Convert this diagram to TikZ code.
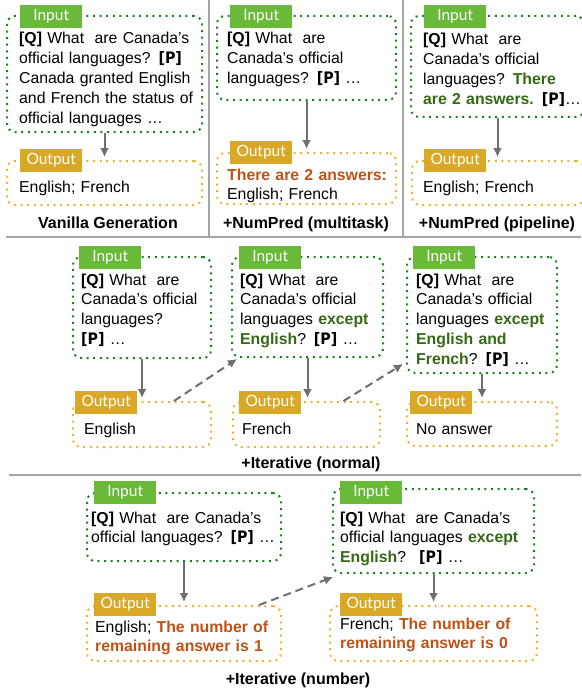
\documentclass[tikz,border=0pt]{standalone}
\usepackage{fontspec}
\setmainfont{Liberation Sans}
\newfontfamily\tagfont{Lato}
\newfontfamily\pfont{DejaVu Sans Condensed}
\usepackage{xcolor}
\usetikzlibrary{calc,arrows.meta}

\definecolor{inborder}{RGB}{28,128,28}
\definecolor{infill}{RGB}{106,186,57}
\definecolor{outborder}{RGB}{232,180,50}
\definecolor{outfill}{RGB}{217,168,38}
\definecolor{hlgreen}{RGB}{52,105,18}
\definecolor{hlorange}{RGB}{190,82,20}
\definecolor{sepgray}{RGB}{165,165,165}
\definecolor{arrgray}{RGB}{110,110,110}

\newcommand{\qtag}{\textbf{[Q]}}
\newcommand{\ptag}{{\pfont\bfseries[P]}}
\newcommand{\hlg}[1]{\textcolor{hlgreen}{\textbf{#1}}}
\newcommand{\hlo}[1]{\textcolor{hlorange}{\textbf{#1}}}

\tikzset{
  box/.style={draw, line width=2pt, dash pattern=on 2pt off 4.6pt, rounded corners=8pt, anchor=north west, inner sep=0pt},
  inbox/.style={box, draw=inborder},
  outbox/.style={box, draw=outborder},
  tag/.style={font=\tagfont\fontsize{15.5}{16}\selectfont, text=white, minimum width=62pt, minimum height=23pt, inner sep=0pt, anchor=north west},
  intag/.style={tag, fill=infill},
  outtag/.style={tag, fill=outfill},
  txt/.style={anchor=base west, inner sep=0pt, text width=205pt, align=left, font=\fontsize{15.8}{19.8}\selectfont},
  capt/.style={anchor=base, inner sep=0pt, font=\bfseries\fontsize{16}{19}\selectfont},
  flow/.style={-{Latex[length=9pt,width=9pt]}, line width=2pt, draw=arrgray, shorten >=3pt},
  iterflow/.style={flow, dash pattern=on 8pt off 5pt, shorten >=0pt},
  divider/.style={line width=2pt, draw=sepgray},
}

\begin{document}
\begin{tikzpicture}[x=1pt, y=-1pt]
	\useasboundingbox (0,0) rectangle (581,690);

	\draw[divider] (209,0) -- (209,237);
	\draw[divider] (403,0) -- (403,237);
	\draw[divider] (6,237) -- (581,237);
	\draw[divider] (9,475) -- (581,475);

	\node[inbox, minimum width=195pt, minimum height=116pt] (in1) at (6,15) {};
	\node[intag] (in1tag) at (20,5) {Input};
	\node[txt] (in1txt) at (19,44) {\qtag{} What~ are Canada’s\\official languages? \ptag\\Canada granted English\\and French the status of\\official languages …};
	\node[outbox, minimum width=195pt, minimum height=44pt] (out1) at (6,160) {};
	\node[outtag] (out1tag) at (20,149) {Output};
	\node[txt] (out1txt) at (19,192) {English; French};
	\draw[flow] (in1.south) -- (in1.south |- out1.north);
	\node[capt] (cap1) at (108,228) {Vanilla Generation};

	\node[inbox, minimum width=179pt, minimum height=84pt] (in2) at (216,15) {};
	\node[intag] (in2tag) at (230,5) {Input};
	\node[txt] (in2txt) at (227,44) {\qtag{} What~ are\\Canada’s official\\languages? \ptag{} …};
	\node[outbox, minimum width=179pt, minimum height=51pt] (out2) at (216,152) {};
	\node[outtag] (out2tag) at (230,141) {Output};
	\node[txt] (out2txt) at (227,180) {\hlo{There are 2 answers:}\\English; French};
	\draw[flow] (in2.south) -- (in2.south |- out2.north);
	\node[capt] (cap2) at (306,228) {+NumPred (multitask)};

	\node[inbox, minimum width=173pt, minimum height=101pt] (in3) at (410,15) {};
	\node[intag] (in3tag) at (424,5) {Input};
	\node[txt] (in3txt) at (423,45) {\qtag{} What~ are\\Canada’s official\\languages? \hlg{There}\\\hlg{are 2 answers.} \ptag…};
	\node[outbox, minimum width=172pt, minimum height=44pt] (out3) at (411,160) {};
	\node[outtag] (out3tag) at (424,149) {Output};
	\node[txt] (out3txt) at (423,192) {English; French};
	\draw[flow] (in3.south) -- (in3.south |- out3.north);
	\node[capt] (cap3) at (497,228) {+NumPred (pipeline)};

	\node[inbox, minimum width=138pt, minimum height=101pt] (in4) at (72,256) {};
	\node[intag] (in4tag) at (79,246) {Input};
	\node[txt] (in4txt) at (81,285) {\qtag{} What~ are\\Canada’s official\\languages?\\\ptag{} …};
	\node[outbox, minimum width=138pt, minimum height=45pt] (out4) at (72,401) {};
	\node[outtag] (out4tag) at (75,391) {Output};
	\node[txt] (out4txt) at (84,434) {English};
	\draw[flow] (in4.south) -- (in4.south |- out4.north);

	\node[inbox, minimum width=151pt, minimum height=100pt] (in5) at (231,256) {};
	\node[intag] (in5tag) at (239,246) {Input};
	\node[txt] (in5txt) at (240,285) {\qtag{} What~ are\\Canada’s official\\languages \hlg{except}\\\hlg{English}? \ptag{} …};
	\node[outbox, minimum width=147pt, minimum height=45pt] (out5) at (232,401) {};
	\node[outtag] (out5tag) at (239,391) {Output};
	\node[txt] (out5txt) at (242,434) {French};
	\draw[flow] (in5.south) -- (in5.south |- out5.north);

	\node[inbox, minimum width=150pt, minimum height=116pt] (in6) at (406,256) {};
	\node[intag] (in6tag) at (413,246) {Input};
	\node[txt] (in6txt) at (416,285) {\qtag{} What~ are\\Canada’s official\\languages \hlg{except}\\\hlg{English and}\\\hlg{French}? \ptag{} …};
	\node[outbox, minimum width=150pt, minimum height=44pt] (out6) at (406,401) {};
	\node[outtag] (out6tag) at (410,391) {Output};
	\node[txt] (out6txt) at (416,434) {No answer};
	\draw[flow] (in6.south) -- (in6.south |- out6.north);

	\draw[iterflow] ($(out4.north)+(32,0)$) -- ($(in5.south west)+(6,1)$);
	\draw[iterflow] ($(out5.north)+(37,0)$) -- ($(in6.south west)+(-3,-10)$);
	\node[capt] (cap4) at (311,468) {+Iterative (normal)};

	\node[inbox, minimum width=194pt, minimum height=68pt] (in7) at (86,492) {};
	\node[intag] (in7tag) at (94,481) {Input};
	\node[txt] (in7txt) at (91,523) {\qtag{} What~ are Canada’s\\official languages? \ptag{} …};
	\node[outbox, minimum width=194pt, minimum height=55pt] (out7) at (86,605) {};
	\node[outtag] (out7tag) at (94,593) {Output};
	\node[txt] (out7txt) at (95,632) {English; \hlo{The number of}\\\hlo{remaining answer is 1}};
	\draw[flow] (in7.south) -- (in7.south |- out7.north);

	\node[inbox, minimum width=201pt, minimum height=84pt] (in8) at (332,488) {};
	\node[intag] (in8tag) at (340,481) {Input};
	\node[txt] (in8txt) at (340,523) {\qtag{} What~ are Canada’s\\official languages \hlg{except}\\\hlg{English}?~ \ptag{} …};
	\node[outbox, minimum width=207pt, minimum height=55pt] (out8) at (329,605) {};
	\node[outtag] (out8tag) at (340,593) {Output};
	\node[txt] (out8txt) at (340,629) {French; \hlo{The number of}\\\hlo{remaining answer is 0}};
	\draw[flow] (in8.south) -- (in8.south |- out8.north);

	\draw[iterflow] ($(out7.north)+(75,0)$) -- ($(in8.south west)+(1,3)$);
	\node[capt] (cap5) at (298,684) {+Iterative (number)};
\end{tikzpicture}
\end{document}
